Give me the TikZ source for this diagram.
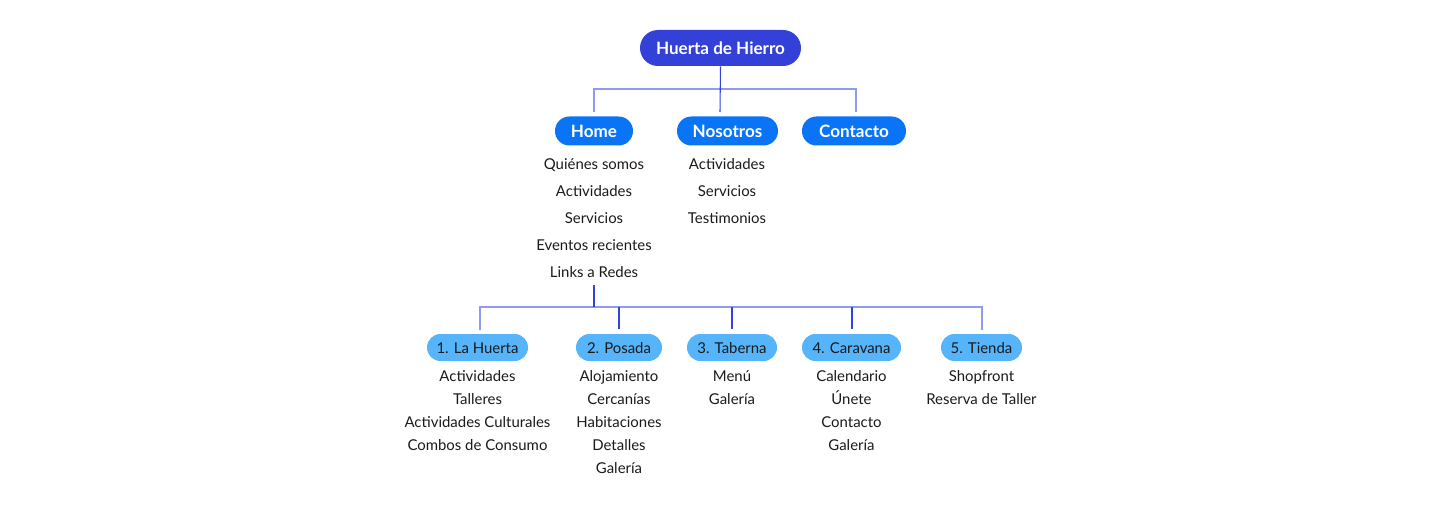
\documentclass[tikz,border=0pt]{standalone}
\usepackage{fontspec}
\setmainfont{Lato}
\definecolor{rootc}{HTML}{3341D9}
\definecolor{onec}{HTML}{0A74F6}
\definecolor{twoc}{HTML}{56B4FA}
\definecolor{lightl}{HTML}{8E9BF0}
\definecolor{darkl}{HTML}{3344DD}
\definecolor{txt}{HTML}{1A1A1A}
\begin{document}
\begin{tikzpicture}[x=0.75pt,y=-0.75pt,
  lvlzero/.style={rectangle, fill=rootc, text=white, inner sep=0pt, minimum height=27pt, rounded corners=13.5pt, text height=11pt, text depth=1.4pt, font=\fontsize{12.8}{14}\selectfont\bfseries},
  lvlone/.style={rectangle, fill=onec, text=white, inner sep=0pt, minimum height=21.75pt, rounded corners=10.8pt, text height=11pt, text depth=1.4pt, font=\fontsize{12.8}{14}\selectfont\bfseries},
  lvltwo/.style={rectangle, fill=twoc, text=txt, inner sep=0pt, minimum height=20.25pt, rounded corners=10.1pt, text height=10.4pt, text depth=1.6pt, font=\fontsize{11.2}{13}\selectfont},
  itemtext/.style={inner sep=0pt, text=txt, text height=10.4pt, text depth=1.6pt, font=\fontsize{11.2}{13}\selectfont},
  lightline/.style={draw=lightl, line width=1.4pt},
  darkline/.style={draw=darkl, line width=0.8pt}]
\useasboundingbox (0,0) rectangle (1440,506);
% level 0
\node[lvlzero, minimum width=120.75pt] (root) at (720.5,48) {Huerta de Hierro};
% level 1
\node[lvlone, minimum width=58.5pt] (home) at (594,131) {Home};
\node[lvlone, minimum width=75.75pt] (nos) at (727.5,131) {Nosotros};
\node[lvlone, minimum width=78pt] (con) at (854,131) {Contacto};
% home items
\node[itemtext] (hi1) at (594,164) {Quiénes somos};
\node[itemtext] (hi2) at (594,191) {Actividades};
\node[itemtext] (hi3) at (594,218) {Servicios};
\node[itemtext] (hi4) at (594,245) {Eventos recientes};
\node[itemtext] (hi5) at (594,272) {Links a Redes};
% nosotros items
\node[itemtext] (ni1) at (727,164) {Actividades};
\node[itemtext] (ni2) at (727,191) {Servicios};
\node[itemtext] (ni3) at (727,218) {Testimonios};
% level 2
\node[lvltwo, minimum width=75.75pt] (s1) at (477.5,347.5) {1. La Huerta};
\node[lvltwo, minimum width=64.5pt] (s2) at (619,347.5) {2. Posada};
\node[lvltwo, minimum width=67.5pt] (s3) at (732,347.5) {3. Taberna};
\node[lvltwo, minimum width=74.25pt] (s4) at (851.5,347.5) {4. Caravana};
\node[lvltwo, minimum width=60.75pt] (s5) at (981.5,347.5) {5. Tienda};
% level 2 items
\node[itemtext] (a1) at (477.5,376) {Actividades};
\node[itemtext] (a2) at (477.5,399) {Talleres};
\node[itemtext] (a3) at (477.5,422) {Actividades Culturales};
\node[itemtext] (a4) at (477.5,445) {Combos de Consumo};
\node[itemtext] (b1) at (619,376) {Alojamiento};
\node[itemtext] (b2) at (619,399) {Cercanías};
\node[itemtext] (b3) at (619,422) {Habitaciones};
\node[itemtext] (b4) at (619,445) {Detalles};
\node[itemtext] (b5) at (619,468) {Galería};
\node[itemtext] (c1) at (732,376) {Menú};
\node[itemtext] (c2) at (732,399) {Galería};
\node[itemtext] (d1) at (851.5,376) {Calendario};
\node[itemtext] (d2) at (851.5,399) {Únete};
\node[itemtext] (d3) at (851.5,422) {Contacto};
\node[itemtext] (d4) at (851.5,445) {Galería};
\node[itemtext] (e1) at (981.5,376) {Shopfront};
\node[itemtext] (e2) at (981.5,399) {Reserva de Taller};
% connector coordinates
\coordinate (tA) at (594,112);
\coordinate (tB) at (720,112);
\coordinate (tC) at (856,112);
\coordinate (jL) at (594,89);
\coordinate (jR) at (856,89);
\coordinate (hs) at (594,285);
\coordinate (hj) at (594,307);
\coordinate (q1) at (480,330);
\coordinate (q5) at (982,330);
\coordinate (k1) at (480,307);
\coordinate (k5) at (982,307);
\coordinate (q2) at (619,329);
\coordinate (q3) at (732,329);
\coordinate (q4) at (852,329);
\coordinate (k2) at (619,307);
\coordinate (k3) at (732,307);
\coordinate (k4) at (852,307);
% upper connectors
\draw[lightline] (tA) -- (jL) -- (jR) -- (tC);
\draw[darkline] (root.south) -- (tB);
% lower connectors
\draw[lightline] (q1) -- (k1) -- (k5) -- (q5);
\draw[darkline] (hs) -- (hj);
\draw[darkline] (k2) -- (q2);
\draw[darkline] (k3) -- (q3);
\draw[darkline] (k4) -- (q4);
\end{tikzpicture}
\end{document}
